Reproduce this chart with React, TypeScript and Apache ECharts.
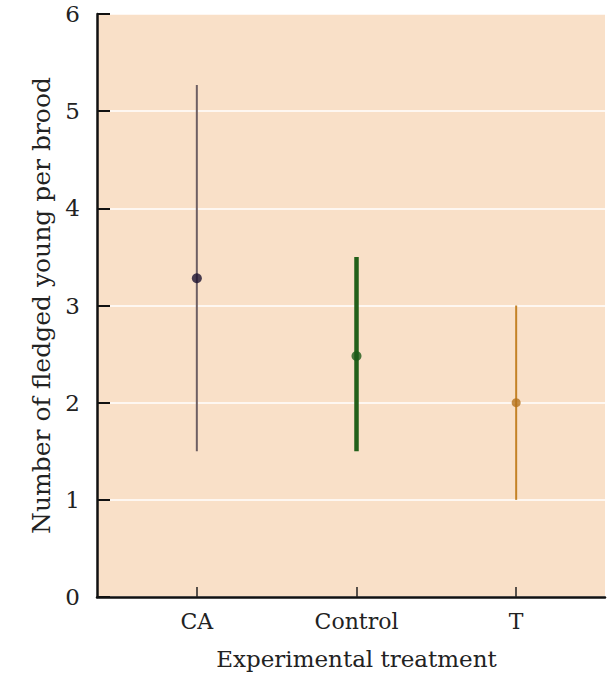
import React, { useEffect, useRef } from "react";
import * as echarts from "echarts";

const categories = ["CA", "Control", "T"];
const means = [3.28, 2.48, 2.0];
const lows = [1.5, 1.5, 1.0];
const highs = [5.27, 3.5, 3.0];
const yTicks = [0, 1, 2, 3, 4, 5, 6];

const lineColors = ["#6e5f63", "#22601a", "#c48226"];
const pointColors = ["#1c1230", "#1d5a18", "#b5721c"];
const lineWidths = [2, 4.5, 2];
const pointSizes = [10, 10, 9];

const FONT = "'DejaVu Serif', 'Liberation Serif', serif";

export default function App() {
  const ref = useRef<HTMLDivElement>(null);
  useEffect(() => {
    document.body.style.margin = "0";
    if (!ref.current) return;
    const chart = echarts.init(ref.current, null, { renderer: "svg" });
    const gridTop = 14;
    const gridBottom = 91;
    chart.setOption({
      animation: false,
      grid: [
        {
          left: 97,
          right: 7,
          top: gridTop,
          bottom: gridBottom,
          show: true,
          backgroundColor: "#f9e0c8",
          borderWidth: 0,
        },
        { left: 117, right: 16, top: gridTop, bottom: gridBottom },
      ],
      xAxis: [
        {
          gridIndex: 0,
          type: "value",
          min: 0,
          max: 1,
          axisLine: { show: true, onZero: false, lineStyle: { color: "#111", width: 2.5 } },
          axisTick: { show: false },
          axisLabel: { show: false },
          splitLine: { show: false },
        },
        {
          gridIndex: 1,
          type: "category",
          data: categories,
          boundaryGap: true,
          axisLine: { show: false },
          axisTick: {
            show: true,
            alignWithLabel: true,
            inside: true,
            length: 10,
            lineStyle: { color: "#222", width: 1.5 },
          },
          axisLabel: { fontFamily: FONT, fontSize: 22, color: "#222", margin: 13 },
          name: "Experimental treatment",
          nameLocation: "middle",
          nameGap: 50,
          nameTextStyle: { fontFamily: FONT, fontSize: 23, color: "#222" },
        },
      ],
      yAxis: [
        {
          gridIndex: 0,
          type: "value",
          min: 0,
          max: 6,
          interval: 1,
          axisLine: { show: true, lineStyle: { color: "#111", width: 2.5 } },
          axisTick: { show: true, inside: true, length: 13, lineStyle: { color: "#111", width: 2 } },
          axisLabel: {
            fontFamily: FONT,
            fontSize: 23,
            color: "#222",
            margin: 17,
            formatter: (v: number) => (yTicks.includes(v) ? String(v) : ""),
          },
          splitLine: { show: true, lineStyle: { color: "rgba(255,255,255,0.75)", width: 2 } },
          name: "Number of fledged young per brood",
          nameLocation: "middle",
          nameGap: 40,
          nameTextStyle: { fontFamily: FONT, fontSize: 25, color: "#222" },
        },
        {
          gridIndex: 1,
          type: "value",
          min: 0,
          max: 6,
          interval: 1,
          show: false,
        },
      ],
      series: [
        {
          type: "custom",
          xAxisIndex: 1,
          yAxisIndex: 1,
          data: categories.map((c, i) => [i, lows[i], highs[i]]),
          renderItem: (params: any, api: any) => {
            const i = api.value(0);
            const lo = api.coord([i, api.value(1)]);
            const hi = api.coord([i, api.value(2)]);
            return {
              type: "line",
              shape: { x1: lo[0], y1: lo[1], x2: hi[0], y2: hi[1] },
              style: { stroke: lineColors[params.dataIndex], lineWidth: lineWidths[params.dataIndex] },
            };
          },
          z: 3,
        },
        {
          type: "scatter",
          xAxisIndex: 1,
          yAxisIndex: 1,
          data: categories.map((c, i) => ({
            value: [i, means[i]],
            symbolSize: pointSizes[i],
            itemStyle: { color: pointColors[i] },
          })),
          z: 4,
        },
      ],
    });
    return () => chart.dispose();
  }, []);
  return <div ref={ref} style={{ width: 612, height: 688 }} />;
}
